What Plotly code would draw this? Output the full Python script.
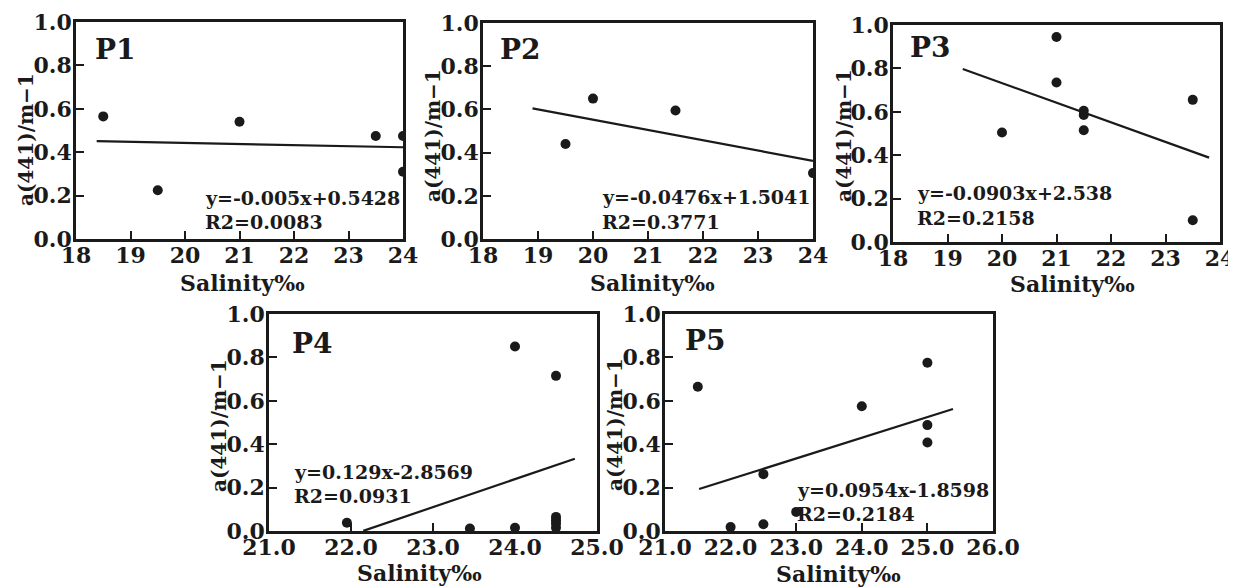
import plotly.graph_objects as go

# ---------------- data ----------------
p1_salinity = [18.5, 19.5, 21.0, 23.5, 24.0, 24.0]
p1_a441 = [0.565, 0.225, 0.54, 0.475, 0.475, 0.31]
p1_fit = {"slope": -0.005, "intercept": 0.5428, "x0": 18.38, "x1": 24.0}

p2_salinity = [19.5, 20.0, 21.5, 24.0]
p2_a441 = [0.44, 0.65, 0.595, 0.305]
p2_fit = {"slope": -0.0476, "intercept": 1.5041, "x0": 18.9, "x1": 24.0}

p3_salinity = [20.0, 21.0, 21.0, 21.5, 21.5, 21.5, 23.5, 23.5]
p3_a441 = [0.505, 0.945, 0.735, 0.605, 0.585, 0.515, 0.655, 0.10]
p3_fit = {"slope": -0.0903, "intercept": 2.538, "x0": 19.28, "x1": 23.8}

p4_salinity = [21.95, 23.45, 24.0, 24.0, 24.5, 24.5, 24.5, 24.5, 24.5]
p4_a441 = [0.038, 0.011, 0.85, 0.015, 0.715, 0.065, 0.05, 0.035, 0.015]
p4_fit = {"slope": 0.129, "intercept": -2.8569, "x0": 22.15, "x1": 24.73}

p5_salinity = [21.5, 22.0, 22.5, 22.5, 23.0, 24.0, 25.0, 25.0, 25.0]
p5_a441 = [0.665, 0.018, 0.262, 0.031, 0.088, 0.575, 0.775, 0.488, 0.408]
p5_fit = {"slope": 0.0954, "intercept": -1.8598, "x0": 21.52, "x1": 25.39}

panel_names = ["P1", "P2", "P3", "P4", "P5"]
equations = ["y=-0.005x+0.5428", "y=-0.0476x+1.5041", "y=-0.0903x+2.538",
             "y=0.129x-2.8569", "y=0.0954x-1.8598"]
r2_texts = ["R2=0.0083", "R2=0.3771", "R2=0.2158", "R2=0.0931", "R2=0.2184"]

x_ranges = [[18, 24], [18, 24], [18, 24], [21, 25], [21, 26]]
y_range = [0, 1.0]
y_ticks = [0.0, 0.2, 0.4, 0.6, 0.8, 1.0]
y_ticklabels = ["0.0", "0.2", "0.4", "0.6", "0.8", "1.0"]
x_title = "Salinity‰"
y_title = "a(441)/m−1"

# ---------------- layout ----------------
W, H = 1236, 588
OFF = 8  # page body margin
# plot boxes in page pixels: (left, right, top, bottom)
boxes = [(76, 403, 22, 239), (483, 813, 23, 239), (893, 1220, 25, 242),
         (269, 597, 314, 531), (665, 993, 314, 531)]
# axis title centres in page pixels
xtitle_pos = [(242, 283), (652, 283), (1072, 284), (419, 573), (838, 574)]
ytitle_pos = [(26, 140), (433, 136), (844, 136), (219, 426), (615, 425)]
# label positions (data coords) for panel name and equation lines
name_pos = [(18.31, 0.875), (18.27, 0.875), (18.28, 0.894), (21.25, 0.866), (21.27, 0.88)]
eq_pos = [(20.33, 0.19, 0.08), (20.13, 0.195, 0.08), (18.4, 0.225, 0.109),
          (21.28, 0.271, 0.16), (22.98, 0.188, 0.077)]

data = [(p1_salinity, p1_a441, p1_fit), (p2_salinity, p2_a441, p2_fit),
        (p3_salinity, p3_a441, p3_fit), (p4_salinity, p4_a441, p4_fit),
        (p5_salinity, p5_a441, p5_fit)]

INK = "#1a1a1a"
FONT = "DejaVu Serif"


def px_x(p):
    return (p - OFF) / W


def px_y(p):
    return 1 - (p - OFF) / H


fig = go.Figure()
annotations = []
for i, ((xs, ys, fit), (l, r, t, b)) in enumerate(zip(data, boxes)):
    n = "" if i == 0 else str(i + 1)
    xa, ya = "x" + n, "y" + n
    fig.add_trace(go.Scatter(x=xs, y=ys, mode="markers", xaxis=xa, yaxis=ya,
                             marker=dict(size=10, color=INK), showlegend=False))
    fx = [fit["x0"], fit["x1"]]
    fy = [fit["slope"] * v + fit["intercept"] for v in fx]
    fig.add_trace(go.Scatter(x=fx, y=fy, mode="lines", xaxis=xa, yaxis=ya,
                             line=dict(color=INK, width=2.2), showlegend=False))
    is_dec = i >= 3
    xtick_vals = list(range(x_ranges[i][0], x_ranges[i][1] + 1))
    xtick_text = [f"{v:.1f}" if is_dec else str(v) for v in xtick_vals]
    fig.update_layout(**{
        "xaxis" + n: dict(domain=[px_x(l), px_x(r)], range=x_ranges[i], anchor=ya,
                          automargin=False, ticklabelstandoff=-5,
                          tickvals=xtick_vals, ticktext=xtick_text,
                          ticks="inside", ticklen=8, tickwidth=2, tickcolor=INK,
                          showline=True, linewidth=2.5, linecolor=INK, mirror=True,
                          showgrid=False, zeroline=False,
                          tickfont=dict(family=FONT, size=22, color=INK, weight="bold")),
        "yaxis" + n: dict(domain=[px_y(b), px_y(t)], range=y_range, anchor=xa,
                          automargin=False, ticklabelstandoff=-3,
                          tickvals=y_ticks, ticktext=y_ticklabels,
                          ticks="inside", ticklen=8, tickwidth=2, tickcolor=INK,
                          showline=True, linewidth=2.5, linecolor=INK, mirror=True,
                          showgrid=False, zeroline=False,
                          tickfont=dict(family=FONT, size=22, color=INK, weight="bold")),
    })
    # axis titles
    annotations.append(dict(x=px_x(xtitle_pos[i][0]), y=px_y(xtitle_pos[i][1]),
                            xref="paper", yref="paper", text=x_title, showarrow=False,
                            xanchor="center", yanchor="middle",
                            font=dict(family=FONT, size=22, color=INK, weight="bold")))
    annotations.append(dict(x=px_x(ytitle_pos[i][0]), y=px_y(ytitle_pos[i][1]),
                            xref="paper", yref="paper", text=y_title, showarrow=False,
                            textangle=-90, xanchor="center", yanchor="middle",
                            font=dict(family=FONT, size=20, color=INK, weight="bold")))
    annotations.append(dict(x=name_pos[i][0], y=name_pos[i][1], xref=xa, yref=ya,
                            text=panel_names[i], showarrow=False, xanchor="left",
                            yanchor="middle",
                            font=dict(family=FONT, size=28, color=INK, weight="bold")))
    ex, ey1, ey2 = eq_pos[i]
    annotations.append(dict(x=ex, y=ey1, xref=xa, yref=ya, text=equations[i],
                            showarrow=False, xanchor="left", yanchor="middle",
                            font=dict(family=FONT, size=19, color=INK, weight="bold")))
    annotations.append(dict(x=ex, y=ey2, xref=xa, yref=ya, text=r2_texts[i],
                            showarrow=False, xanchor="left", yanchor="middle",
                            font=dict(family=FONT, size=19, color=INK, weight="bold")))

fig.update_layout(width=W, height=H, margin=dict(l=0, r=0, t=0, b=0),
                  paper_bgcolor="white", plot_bgcolor="white",
                  annotations=annotations)

fig.write_html("out.html")
